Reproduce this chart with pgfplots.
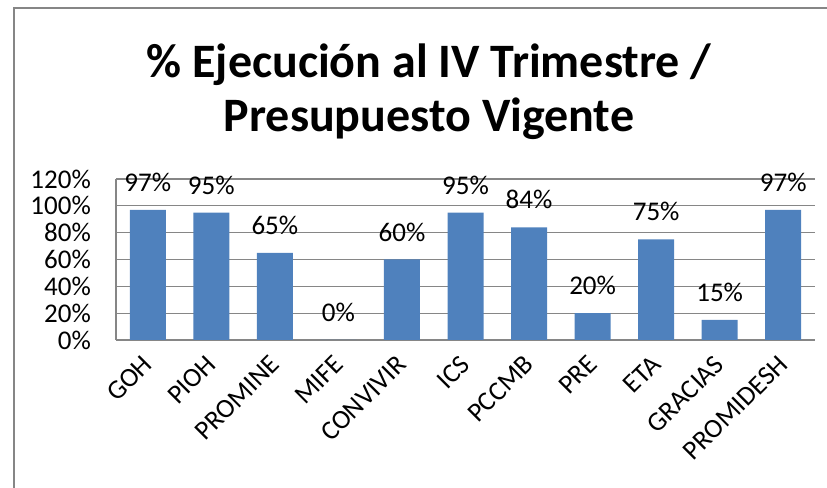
\documentclass[border=0pt]{standalone}
\usepackage{fontspec}
\setmainfont{Carlito}
\usepackage{pgfplots}
\pgfplotsset{compat=1.18}
\definecolor{barblue}{HTML}{4F81BD}
\definecolor{gridgray}{HTML}{868686}
\begin{document}
\begin{tikzpicture}[x=1bp,y=1bp]
\useasboundingbox (0,0) rectangle (827,488);
\draw[gridgray, line width=1.2bp] (14,0) -- (14,480) -- (827,480);
\node[font=\fontsize{48bp}{54bp}\selectfont\bfseries, anchor=base, inner sep=0] at (429,410) {\% Ejecución al IV Trimestre /};
\node[font=\fontsize{48bp}{54bp}\selectfont\bfseries, anchor=base, inner sep=0] at (429,356) {Presupuesto Vigente};
\begin{axis}[
  at={(116bp,148bp)}, anchor=south west,
  scale only axis, width=699bp, height=161bp,
  xmin=-0.5, xmax=10.5, ymin=0, ymax=120,
  ytick={0,20,...,120},
  xtick={0,...,10},
  xticklabels={GOH,PIOH,PROMINE,MIFE,CONVIVIR,ICS,PCCMB,PRE,ETA,GRACIAS,PROMIDESH},
  yticklabel={\pgfmathprintnumber[assume math mode=true]{\tick}\%},
  ymajorgrids, grid style={gridgray, line width=1.2bp},
  axis x line*=bottom, axis y line*=left,
  axis line style={gridgray, line width=1.2bp, -},
  major tick length=0pt,
  tick label style={font=\fontsize{27bp}{30bp}\selectfont, text=black},
  yticklabel style={anchor=east, inner sep=0pt, xshift=-25bp},
  xticklabel style={rotate=45, anchor=east, inner sep=0pt},
  xticklabel shift=20bp,
  ybar, bar width=36bp,
  nodes near coords={\pgfmathprintnumber[assume math mode=true]{\pgfplotspointmeta}\%},
  every node near coord/.append style={font=\fontsize{27bp}{30bp}\selectfont, text=black, anchor=south, inner sep=0pt, yshift=18bp},
  clip=false,
]
\addplot[fill=barblue, draw=none] coordinates {
(0,97) (1,95) (2,65) (3,0) (4,60) (5,95) (6,84) (7,20) (8,75) (9,15) (10,97)};
\end{axis}
\end{tikzpicture}
\end{document}
